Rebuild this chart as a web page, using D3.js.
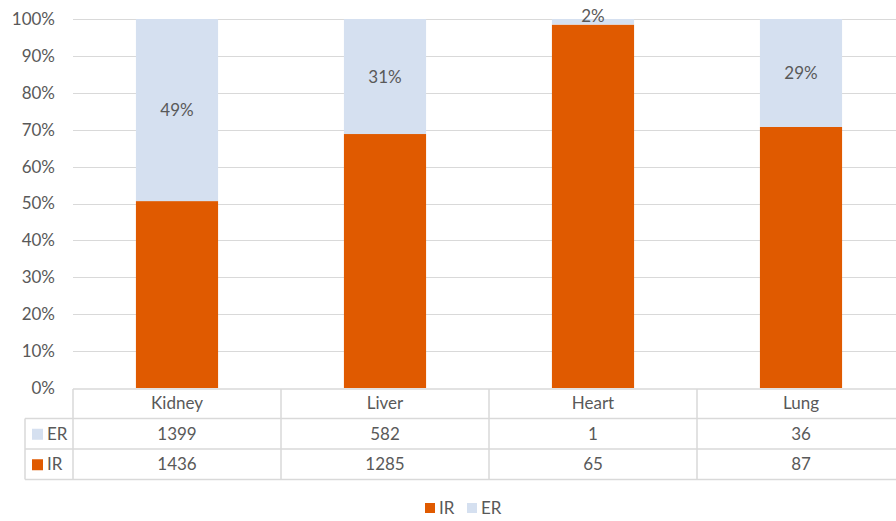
<!DOCTYPE html>
<html>
<head>
<meta charset="utf-8">
<script src="https://cdn.jsdelivr.net/npm/d3@7/dist/d3.min.js"></script>
<style>
  html, body { margin: 0; padding: 0; background: #fff; }
  svg { display: block; }
  text { font-family: Lato, "Open Sans", sans-serif; fill: #595959; }
</style>
</head>
<body>
<svg id="chart" width="896" height="521"></svg>
<script>
// Organ categories and counts per series
const organs = ["Kidney", "Liver", "Heart", "Lung"];
const irCounts = [1436, 1285, 65, 87];
const erCounts = [1399, 582, 1, 36];
const yTicks = [0, 0.1, 0.2, 0.3, 0.4, 0.5, 0.6, 0.7, 0.8, 0.9, 1.0];
const seriesNames = ["IR", "ER"];
const seriesColors = { IR: "#e05a00", ER: "#d5e0f0" };

const svg = d3.select("#chart");
const gridColor = "#d9d9d9";
const fs = 17;

const plotTop = 19, plotBottom = 388;
const x = d3.scaleBand().domain(organs).range([73, 905]);
const y = d3.scaleLinear().domain([0, 1]).range([plotBottom, plotTop]);
const barFrac = 0.395;

// Stacked shares (IR at the bottom, ER on top)
const rows = organs.map((o, i) => {
  const total = irCounts[i] + erCounts[i];
  return { organ: o, IR: irCounts[i] / total, ER: erCounts[i] / total };
});
const stacked = d3.stack().keys(seriesNames)(rows);

// Horizontal gridlines
svg.append("g").selectAll("line").data(yTicks.filter(t => t > 0)).join("line")
  .attr("x1", 73).attr("x2", 905)
  .attr("y1", d => Math.round(y(d)) + 0.5).attr("y2", d => Math.round(y(d)) + 0.5)
  .attr("stroke", gridColor).attr("stroke-width", 1);

// Y axis labels
const yAxis = d3.axisLeft(y).tickValues(yTicks).tickFormat(d3.format(".0%")).tickSize(0).tickPadding(18);
const yg = svg.append("g").attr("transform", "translate(73,0)").call(yAxis);
yg.select(".domain").remove();
yg.selectAll("text").attr("font-size", fs).attr("fill", "#595959")
  .style("font-family", "Lato, 'Open Sans', sans-serif");

// Bars
const bw = x.bandwidth() * barFrac;
svg.append("g").selectAll("g").data(stacked).join("g")
  .attr("fill", d => seriesColors[d.key])
  .selectAll("rect").data(d => d).join("rect")
  .attr("x", d => x(d.data.organ) + (x.bandwidth() - bw) / 2)
  .attr("width", bw)
  .attr("y", d => y(d[1]))
  .attr("height", d => y(d[0]) - y(d[1]));

// ER share labels, centred in the segment (thin segments get the label at the top edge)
const erLayer = stacked.find(s => s.key === "ER");
svg.append("g").selectAll("text").data(erLayer).join("text")
  .attr("x", d => x(d.data.organ) + x.bandwidth() / 2)
  .attr("y", d => (y(d[0]) - y(d[1])) < 20 ? plotTop + 3 : (y(d[0]) + y(d[1])) / 2 + 6)
  .attr("text-anchor", "middle")
  .attr("font-size", fs)
  .attr("fill", "#404040")
  .text(d => d3.format(".0%")(d.data.ER));

// Data table beneath the axis
const rowH = 30.5;
const tableTop = plotBottom;
const tLeft = 25, tCol = 73;
const tg = svg.append("g").attr("stroke", gridColor).attr("stroke-width", 1.5).attr("fill", "none");
tg.append("line").attr("x1", tCol).attr("x2", 905).attr("y1", tableTop + 1).attr("y2", tableTop + 1);
[1, 2, 3].forEach(r => {
  tg.append("line").attr("x1", tLeft).attr("x2", 905)
    .attr("y1", tableTop + r * rowH).attr("y2", tableTop + r * rowH);
});
tg.append("line").attr("x1", tLeft).attr("x2", tLeft).attr("y1", tableTop + rowH).attr("y2", tableTop + 3 * rowH);
organs.concat([null]).forEach(o => {
  const xx = o ? x(o) : 905;
  tg.append("line").attr("x1", xx).attr("x2", xx).attr("y1", tableTop + 1).attr("y2", tableTop + 3 * rowH);
});

// category headers
svg.append("g").selectAll("text").data(organs).join("text")
  .attr("x", d => x(d) + x.bandwidth() / 2)
  .attr("y", tableTop + rowH / 2 + 6)
  .attr("text-anchor", "middle").attr("font-size", fs)
  .text(d => d);

// table rows: ER then IR
const tableRows = [{ key: "ER", values: erCounts }, { key: "IR", values: irCounts }];
tableRows.forEach((r, ri) => {
  const cy = tableTop + (ri + 1) * rowH + rowH / 2;
  svg.append("rect").attr("x", 32).attr("y", cy - 5).attr("width", 11).attr("height", 11)
    .attr("fill", seriesColors[r.key]);
  svg.append("text").attr("x", 47).attr("y", cy + 6).attr("font-size", fs).text(r.key);
  svg.append("g").selectAll("text").data(r.values).join("text")
    .attr("x", (d, i) => x(organs[i]) + x.bandwidth() / 2)
    .attr("y", cy + 6)
    .attr("text-anchor", "middle").attr("font-size", fs)
    .text(d => d);
});

// Legend
const legend = svg.append("g").attr("transform", "translate(425,508)");
const legendItems = [{ key: "IR", x: 0 }, { key: "ER", x: 42 }];
legendItems.forEach(it => {
  legend.append("rect").attr("x", it.x).attr("y", -5).attr("width", 10).attr("height", 10)
    .attr("fill", seriesColors[it.key]);
  legend.append("text").attr("x", it.x + 14).attr("y", 6).attr("font-size", fs).text(it.key);
});
</script>
</body>
</html>
